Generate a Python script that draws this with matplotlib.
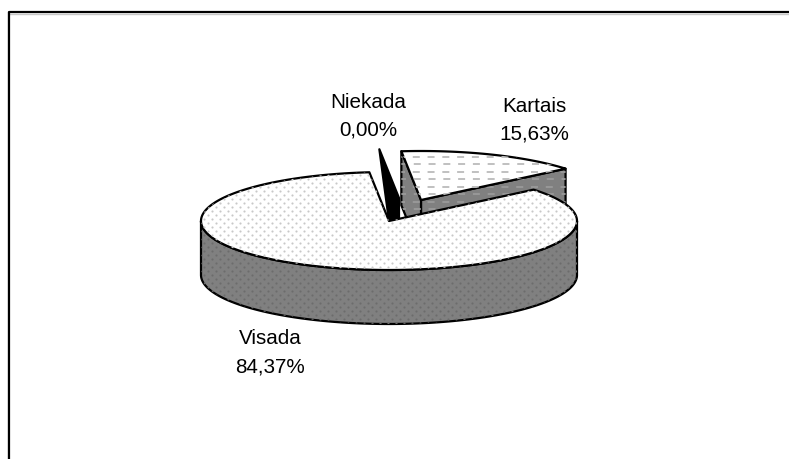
import numpy as np
import matplotlib
matplotlib.use('Agg')
import matplotlib.pyplot as plt
from matplotlib.patches import Polygon

labels = ['Kartais', 'Niekada', 'Visada']
values = [15.63, 0.00, 84.37]
value_labels = ['15,63%', '0,00%', '84,37%']

# pie geometry in pixels
cx, cy = 389, 222
rx, ry = 188, 49
depth = 54
start_angle = 96
kartais_shift = (32, -21)
niekada_shift = (10, -23)

label_pos = {'Kartais': (534, 106), 'Niekada': (368, 102), 'Visada': (270, 339)}

GRAY = '#808080'
LW = 1.6

plt.rcParams['font.family'] = ['Liberation Sans', 'DejaVu Sans']
fig = plt.figure(figsize=(7.89, 4.6), dpi=100)
ax = fig.add_axes([0, 0, 1, 1])
ax.set_xlim(0, 789)
ax.set_ylim(460, 0)
ax.axis('off')


def rim(a, shift=(0, 0), drop=0):
    a = np.radians(a)
    return np.column_stack([cx + shift[0] + rx * np.cos(a),
                            cy + shift[1] + drop - ry * np.sin(a)])


def arc(a1, a2, shift=(0, 0), drop=0):
    return rim(np.linspace(a1, a2, 200), shift, drop)


def apex(shift=(0, 0), drop=0):
    return np.array([[cx + shift[0], cy + shift[1] + drop]])


def dots(patch, color, zorder):
    xs, ys = np.meshgrid(np.arange(0, 789, 8.0), np.arange(0, 460, 4.0))
    xs = xs + (np.round(ys / 4) % 2) * 4
    pts = ax.scatter(xs.ravel(), ys.ravel(), s=2.4, color=color, lw=0, zorder=zorder)
    pts.set_clip_path(patch)


def dashes(patch, color, zorder):
    for i, y in enumerate(np.arange(0, 460, 7.5)):
        line, = ax.plot([-7.5 * (i % 2), 789], [y, y], color=color, lw=1.4,
                        dashes=(3.6, 4.0), zorder=zorder)
        line.set_clip_path(patch)


def face(points, fc, zorder):
    p = Polygon(points, closed=True, fc=fc, ec='black', lw=LW, joinstyle='round', zorder=zorder)
    ax.add_patch(p)
    return p


sweep = [v / 100 * 360 for v in values]
k_start, k_end = start_angle, start_angle - sweep[0]
v_start, v_end = k_end, k_end - sweep[2]

# border, only top and left
ax.plot([8, 8], [13, 460], color='#b0b0b0', lw=1, zorder=1)
ax.plot([9, 789], [14.5, 14.5], color='#c8c8c8', lw=1, zorder=1)
ax.plot([9.5, 9.5, 789], [460, 12.5, 12.5], color='black', lw=1.6, zorder=2)

# Kartais: cut faces first, then top
k_rim_s = rim(k_start, kartais_shift)
k_rim_e = rim(k_end, kartais_shift)
k_apex = apex(kartais_shift)
down = np.array([[0, depth]])
p = face(np.vstack([k_rim_e, k_apex, k_apex + down, k_rim_e + down]), GRAY, 3)
dashes(p, '#989898', 3.1)
p = face(np.vstack([k_rim_s, k_apex, k_apex + down, k_rim_s + down]), GRAY, 3.2)
dashes(p, '#989898', 3.3)
p = face(np.vstack([k_apex, arc(k_end, k_start, kartais_shift)]), 'white', 4)
dashes(p, '#c0c0c0', 4.1)

# Niekada is a zero width slice, only its black cut face shows
n_rim = rim(start_angle, niekada_shift)
n_apex = apex(niekada_shift)
face(np.vstack([n_rim, n_apex, n_apex + down * 0.4, apex()]), 'black', 5)

# Visada: side wall then top
wall = np.vstack([arc(180, 360), arc(360, 180, drop=depth)])
p = face(wall, GRAY, 6)
dots(p, '#6c6c6c', 6.1)
p = face(np.vstack([apex(), arc(v_start, v_end)]), 'white', 7)
dots(p, '#c8c8c8', 7.1)

for name, val in zip(labels, value_labels):
    x, y = label_pos[name]
    ax.text(x, y, name, ha='center', va='center', fontsize=14.9, zorder=10)
    ax.text(x, y + 28, val, ha='center', va='center', fontsize=14.9, zorder=10)

fig.savefig('out.png', dpi=100)
